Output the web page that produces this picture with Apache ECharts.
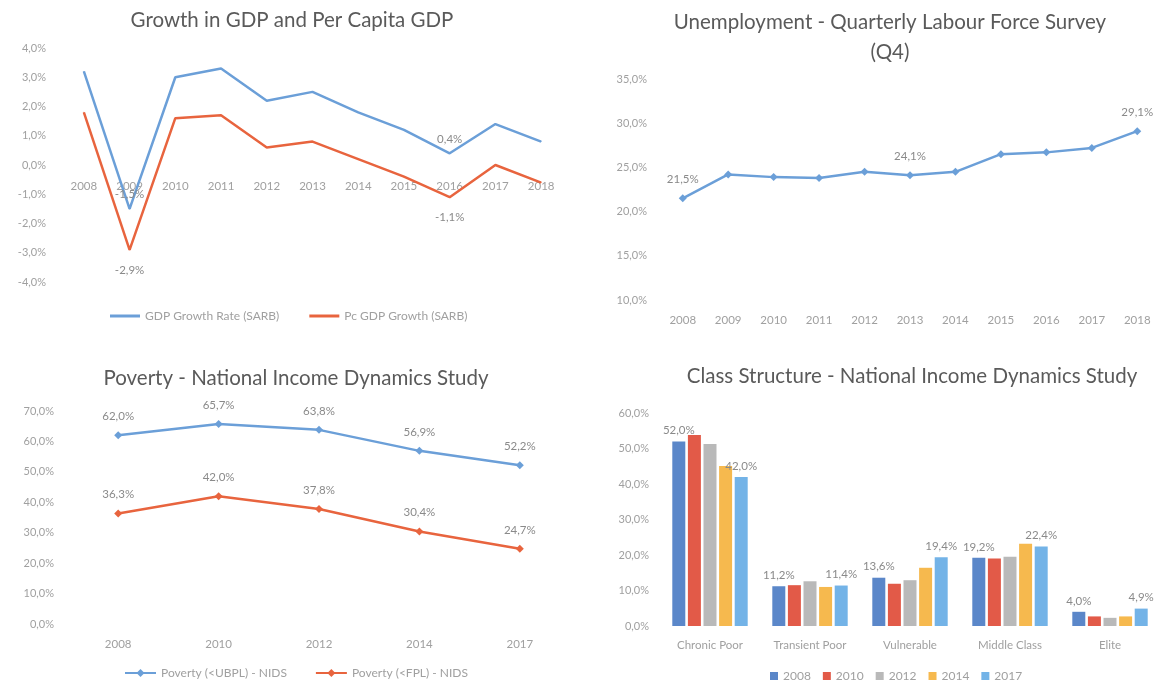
<!DOCTYPE html>
<html>
<head>
<meta charset="utf-8">
<title>Growth, unemployment, poverty and class structure</title>
<script src="https://cdn.jsdelivr.net/npm/echarts@6/dist/echarts.min.js"></script>
<style>
    html, body { margin: 0; padding: 0; background: #fff; }
    #main { width: 1160px; height: 681px; }
</style>
</head>
<body>
<div id="main"></div>
<script type="text/javascript">
    // top left: GDP growth
    var gdpYears = ['2008', '2009', '2010', '2011', '2012', '2013', '2014', '2015', '2016', '2017', '2018'];
    var gdpGrowth = [3.2, -1.5, 3.0, 3.3, 2.2, 2.5, 1.8, 1.2, 0.4, 1.4, 0.8];
    var pcGdpGrowth = [1.8, -2.9, 1.6, 1.7, 0.6, 0.8, 0.2, -0.4, -1.1, 0.0, -0.6];
    var gdpLabelled = [1, 8];

    // top right: unemployment
    var unempYears = ['2008', '2009', '2010', '2011', '2012', '2013', '2014', '2015', '2016', '2017', '2018'];
    var unemployment = [21.5, 24.2, 23.9, 23.8, 24.5, 24.1, 24.5, 26.5, 26.7, 27.2, 29.1];
    var unempLabelled = [0, 5, 10];

    // bottom left: poverty
    var povertyYears = ['2008', '2010', '2012', '2014', '2017'];
    var povertyUbpl = [62.0, 65.7, 63.8, 56.9, 52.2];
    var povertyFpl = [36.3, 42.0, 37.8, 30.4, 24.7];

    // bottom right: class structure
    var classes = ['Chronic Poor', 'Transient Poor', 'Vulnerable', 'Middle Class', 'Elite'];
    var classYears = ['2008', '2010', '2012', '2014', '2017'];
    var class2008 = [52.0, 11.2, 13.6, 19.2, 4.0];
    var class2010 = [53.8, 11.5, 11.9, 19.0, 2.7];
    var class2012 = [51.3, 12.6, 12.9, 19.5, 2.3];
    var class2014 = [45.1, 11.0, 16.4, 23.2, 2.7];
    var class2017 = [42.0, 11.4, 19.4, 22.4, 4.9];

    var blue = '#6b9fd8';
    var red = '#e8643e';
    var barColors = ['#5b87c9', '#e25a48', '#b9b9b9', '#f6b94e', '#73b3e7'];
    var font = 'Lato';
    var tickColor = '#a0a0a0';
    var labelColor = '#8a8a8a';

    function pct(v) {
        return Number(v).toFixed(1).replace('.', ',') + '%';
    }

    // only some points carry a data label, as in the original
    function pick(values, idx, pos) {
        return values.map(function (v, i) {
            if (idx.indexOf(i) < 0) return v;
            return { value: v, label: { show: true, position: pos } };
        });
    }

    function catAxis(grid, data, margin, offset) {
        return {
            type: 'category', gridIndex: grid, data: data, position: 'bottom', offset: offset || 0,
            axisLine: { show: false, onZero: false }, axisTick: { show: false },
            axisLabel: { color: tickColor, fontFamily: font, fontSize: 11.5, margin: margin }
        };
    }

    function valAxis(grid, min, max, step, margin) {
        return {
            type: 'value', gridIndex: grid, min: min, max: max, interval: step,
            axisLine: { show: false }, axisTick: { show: false }, splitLine: { show: false },
            axisLabel: { color: tickColor, fontFamily: font, fontSize: 11, margin: margin, formatter: pct }
        };
    }

    var dataLabel = { color: labelColor, fontFamily: font, fontSize: 11.5, formatter: function (p) { return pct(p.value); } };
    var titleStyle = { color: '#5a5a5a', fontFamily: font, fontSize: 20.5, fontWeight: 'normal' };
    var legendText = { color: tickColor, fontFamily: font, fontSize: 12 };

    var myChart = echarts.init(document.getElementById('main'));

    var series = [
        {
            name: 'GDP Growth Rate (SARB)', type: 'line', xAxisIndex: 0, yAxisIndex: 0,
            symbol: 'circle', symbolSize: 1, lineStyle: { width: 2.5, color: blue }, itemStyle: { color: blue },
            label: Object.assign({ show: false, distance: 8 }, dataLabel),
            data: pick(gdpGrowth, gdpLabelled, 'top')
        },
        {
            name: 'Pc GDP Growth (SARB)', type: 'line', xAxisIndex: 0, yAxisIndex: 0,
            symbol: 'circle', symbolSize: 1, lineStyle: { width: 2.5, color: red }, itemStyle: { color: red },
            label: Object.assign({ show: false, distance: 14 }, dataLabel),
            data: pick(pcGdpGrowth, gdpLabelled, 'bottom')
        },
        {
            name: 'Unemployment', type: 'line', xAxisIndex: 1, yAxisIndex: 1,
            symbol: 'diamond', symbolSize: 8, lineStyle: { width: 2.5, color: blue }, itemStyle: { color: blue },
            label: Object.assign({ show: false, distance: 9 }, dataLabel),
            data: pick(unemployment, unempLabelled, 'top')
        },
        {
            name: 'Poverty (<UBPL) - NIDS', type: 'line', xAxisIndex: 2, yAxisIndex: 2,
            symbol: 'diamond', symbolSize: 8, lineStyle: { width: 2.5, color: blue }, itemStyle: { color: blue },
            label: Object.assign({ show: true, position: 'top', distance: 9 }, dataLabel),
            data: povertyUbpl
        },
        {
            name: 'Poverty (<FPL) - NIDS', type: 'line', xAxisIndex: 2, yAxisIndex: 2,
            symbol: 'diamond', symbolSize: 8, lineStyle: { width: 2.5, color: red }, itemStyle: { color: red },
            label: Object.assign({ show: true, position: 'top', distance: 9 }, dataLabel),
            data: povertyFpl
        }
    ];

    var classValues = [class2008, class2010, class2012, class2014, class2017];
    classYears.forEach(function (y, i) {
        // Excel labelled only the first and the last year
        var labelled = (i === 0 || i === classYears.length - 1);
        series.push({
            name: y, type: 'bar', xAxisIndex: 3, yAxisIndex: 3,
            barWidth: 13, barGap: '20%',
            itemStyle: { color: barColors[i] },
            label: Object.assign({ show: labelled, position: 'top', distance: 5 }, dataLabel),
            data: classValues[i]
        });
    });

    var option = {
        backgroundColor: '#ffffff',
        animation: false,
        title: [
            { text: 'Growth in GDP and Per Capita GDP', left: 292, top: 10, textAlign: 'center', padding: 0, textStyle: titleStyle },
            { text: 'Unemployment - Quarterly Labour Force Survey\n(Q4)', left: 890, top: 7, textAlign: 'center', padding: 0,
              textStyle: Object.assign({ lineHeight: 30 }, titleStyle) },
            { text: 'Poverty - National Income Dynamics Study', left: 296, top: 368, textAlign: 'center', padding: 0, textStyle: titleStyle },
            { text: 'Class Structure - National Income Dynamics Study', left: 912, top: 366, textAlign: 'center', padding: 0, textStyle: titleStyle }
        ],
        legend: [
            {
                data: ['GDP Growth Rate (SARB)', 'Pc GDP Growth (SARB)'],
                left: 110, top: 310, icon: 'rect', itemWidth: 30, itemHeight: 3, itemGap: 30, padding: 0,
                textStyle: legendText
            },
            {
                data: ['Poverty (<UBPL) - NIDS', 'Poverty (<FPL) - NIDS'],
                left: 124, top: 667, itemWidth: 31, itemHeight: 10, itemGap: 28, padding: 0,
                textStyle: legendText
            },
            {
                data: classYears,
                left: 770, top: 670, itemWidth: 8, itemHeight: 8, itemGap: 12, padding: 0, icon: 'rect',
                textStyle: legendText
            }
        ],
        grid: [
            { left: 61, top: 48, width: 503, height: 234 },
            { left: 660, top: 79, width: 502, height: 221 },
            { left: 68, top: 411, width: 502, height: 213 },
            { left: 660, top: 413, width: 505, height: 213 }
        ],
        xAxis: [
            // year labels sit just under the 0,0% line, as in Excel
            catAxis(0, gdpYears, 14, -116),
            catAxis(1, unempYears, 14),
            catAxis(2, povertyYears, 14),
            catAxis(3, classes, 13)
        ],
        yAxis: [
            valAxis(0, -4, 4, 1, 15),
            valAxis(1, 10, 35, 5, 13),
            valAxis(2, 0, 70, 10, 14),
            valAxis(3, 0, 60, 10, 11)
        ],
        series: series
    };

    myChart.setOption(option);
</script>
</body>
</html>
